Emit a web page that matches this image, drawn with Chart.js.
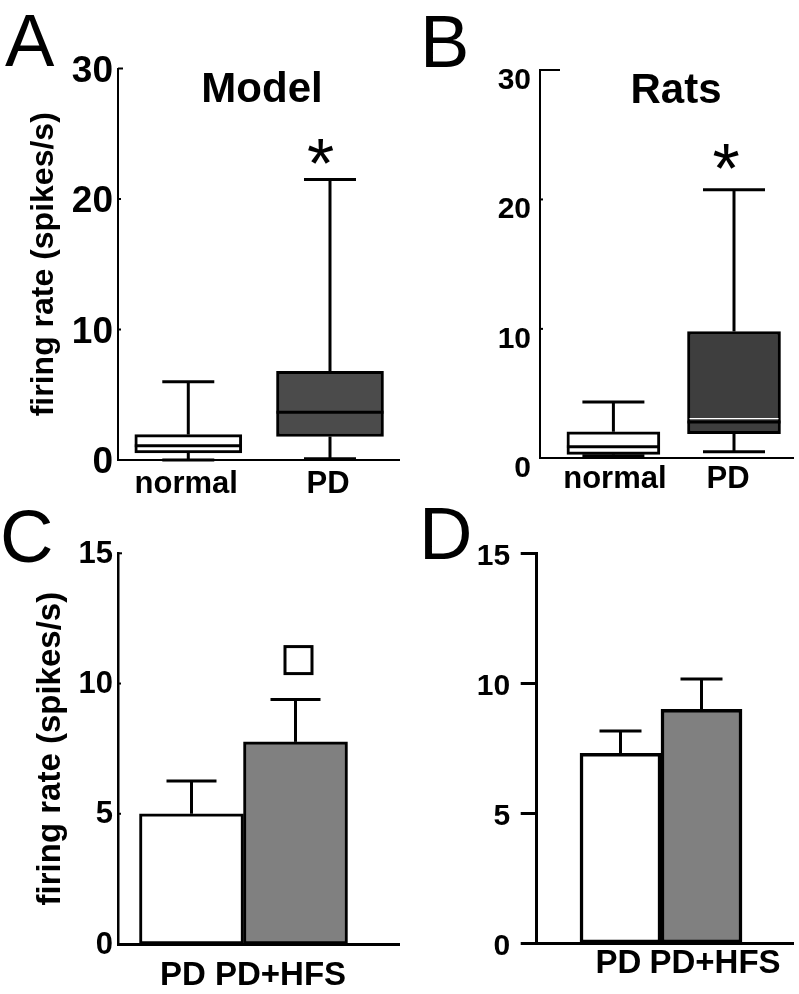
<!DOCTYPE html>
<html><head><meta charset="utf-8">
<script src="https://cdn.jsdelivr.net/npm/chart.js@4.4.1/dist/chart.umd.min.js"></script>
<style>
html,body{margin:0;padding:0;background:#fff;}
#wrap{position:relative;width:799px;height:994px;overflow:hidden;font-family:'Liberation Sans',Arial,Helvetica,sans-serif;color:#000;}
#wrap canvas{position:absolute;}
.lbl{position:absolute;line-height:1;white-space:nowrap;}
.panel{font-size:74px;font-weight:normal;}
.ttl{font-size:42px;font-weight:bold;text-align:center;width:200px;}
</style></head><body>
<div id="wrap">
<canvas id="cA" width="400" height="500" style="left:0;top:0"></canvas>
<canvas id="cB" width="399" height="500" style="left:400px;top:0"></canvas>
<canvas id="cC" width="400" height="494" style="left:0;top:500px"></canvas>
<canvas id="cD" width="399" height="494" style="left:400px;top:500px"></canvas>
<div class="lbl panel" style="left:5px;top:4px">A</div>
<div class="lbl panel" style="left:420px;top:5px">B</div>
<div class="lbl panel" style="left:0px;top:500px">C</div>
<div class="lbl panel" style="left:419px;top:497px">D</div>
<div class="lbl ttl" style="left:162px;top:66.5px">Model</div>
<div class="lbl ttl" style="left:576px;top:67.5px">Rats</div>
</div>
<script>
// ---- data ----
const boxCategories = ['normal', 'PD'];
const modelMin = [0, 0.1];
const modelQ1 = [0.55, 1.8];
const modelMedian = [1.1, 3.65];
const modelQ3 = [1.95, 6.8];
const modelMax = [6.0, 21.5];
const ratsMin = [0.2, 0.5];
const ratsQ1 = [0.3, 1.9];
const ratsMedian = [0.9, 2.8];
const ratsQ3 = [2.05, 9.8];
const ratsMax = [4.35, 20.75];
const boxTicks = [0, 10, 20, 30];

const barCategories = ['PD', 'PD+HFS'];
const modelMean = [5.0, 7.76];
const modelSem = [1.26, 1.63];
const ratsMean = [7.31, 9.0];
const ratsSem = [0.86, 1.17];
const barTicks = [0, 5, 10, 15];

const starA = [null, 23.6];
const starB = [null, 23.25];
const squareC = [null, 10.9];

// ---- rendering ----
const FONT = "'Liberation Sans', Arial, Helvetica, sans-serif";
Chart.defaults.font.family = FONT;
Chart.defaults.color = '#000';

function makeExtras(o) {
  return {
    id: 'extras',
    beforeDraw(chart) {
      if (!o.labelShift) return;
      const items = chart.scales.x.getLabelItems();
      items.forEach((it, i) => {
        if (o.labelShift[i]) it.options.translation[0] += o.labelShift[i];
      });
    },
    afterDatasetsDraw(chart) {
      const ctx = chart.ctx, x = chart.scales.x, y = chart.scales.y;
      const area = chart.chartArea;
      ctx.save();
      ctx.strokeStyle = '#000';
      ctx.fillStyle = '#000';
      ctx.lineCap = 'butt';
      const seg = (x1, y1, x2, y2) => { ctx.beginPath(); ctx.moveTo(x1, y1); ctx.lineTo(x2, y2); ctx.stroke(); };
      const bars = chart.getDatasetMeta(0).data;
      if (o.box) {
        const b = o.box;
        b.min.forEach((_, i) => {
          const px = x.getPixelForValue(i), h = b.capWidth / 2;
          const yMax = y.getPixelForValue(b.max[i]), yQ3 = y.getPixelForValue(b.q3[i]);
          const yMin = y.getPixelForValue(b.min[i]), yQ1 = y.getPixelForValue(b.q1[i]);
          ctx.strokeStyle = '#000';
          ctx.lineWidth = b.lineWidth;
          seg(px, yQ3, px, yMax); seg(px - h, yMax, px + h, yMax);
          if (yMin - yQ1 > 1) seg(px, yQ1, px, yMin);
          seg(px - h, yMin, px + h, yMin);
          const yMed = y.getPixelForValue(b.median[i]);
          const bl = bars[i].x - bars[i].width / 2 + 2, br = bars[i].x + bars[i].width / 2 - 2;
          if (b.glint && b.glint[i]) {
            ctx.strokeStyle = '#ffffff';
            ctx.lineWidth = 1.2;
            seg(bl, yMed - b.glint[i], br, yMed - b.glint[i]);
            ctx.strokeStyle = '#000';
          }
          ctx.lineWidth = b.medianWidth;
          seg(bl - 2, yMed, br + 2, yMed);
        });
      }
      if (o.err) {
        const e = o.err;
        ctx.lineWidth = e.lineWidth;
        e.mean.forEach((m, i) => {
          const px = x.getPixelForValue(i), h = e.capWidth / 2;
          const yTop = y.getPixelForValue(m), yE = y.getPixelForValue(m + e.sem[i]);
          seg(px, yTop, px, yE); seg(px - h, yE, px + h, yE);
        });
      }
      if (o.innerTicks) {
        ctx.lineWidth = o.innerTicks.width;
        Object.keys(o.innerTicks.lengths).forEach(k => {
          const py = y.getPixelForValue(Number(k));
          seg(area.left, py, area.left + o.innerTicks.lengths[k], py);
        });
      }
      if (o.star) {
        const s = o.star;
        ctx.font = s.size + 'px ' + FONT;
        ctx.textAlign = 'center';
        ctx.textBaseline = 'alphabetic';
        s.values.forEach((v, i) => {
          if (v == null) return;
          ctx.fillText('*', x.getPixelForValue(i) + s.dx, y.getPixelForValue(v) + s.size * 0.58 - s.lift);
        });
      }
      if (o.square) {
        const q = o.square;
        ctx.lineWidth = q.lineWidth;
        q.values.forEach((v, i) => {
          if (v == null) return;
          const px = x.getPixelForValue(i) + q.dx, py = y.getPixelForValue(v);
          ctx.fillStyle = '#fff';
          ctx.fillRect(px - q.size / 2, py - q.size / 2, q.size, q.size);
          ctx.strokeRect(px - q.size / 2, py - q.size / 2, q.size, q.size);
        });
      }
      ctx.restore();
    }
  };
}

function bold(size) { return { size: size, weight: 'bold', family: FONT }; }

function buildChart(id, p) {
  return new Chart(document.getElementById(id), {
    type: 'bar',
    data: { datasets: [{
      data: p.data,
      backgroundColor: p.fills,
      borderColor: '#000',
      borderWidth: p.borderWidth,
      borderSkipped: false,
      barThickness: p.barThickness
    }] },
    options: {
      responsive: false, animation: false, devicePixelRatio: 1,
      layout: { padding: { top: p.top, right: p.right, left: 0, bottom: 0 } },
      plugins: { legend: { display: false }, tooltip: { enabled: false }, title: { display: false } },
      scales: {
        x: {
          type: 'linear', min: p.xMin, max: p.xMax, offset: false,
          afterBuildTicks: s => { s.ticks = p.categories.map((c, i) => ({ value: i })); },
          afterFit: s => { s.height = p.xHeight; },
          ticks: { callback: v => p.categories[v], font: bold(p.xFont), color: '#000', padding: p.xPad,
                   autoSkip: false, maxRotation: 0, minRotation: 0 },
          grid: { display: false, drawTicks: false, offset: false },
          border: { color: '#000', width: p.xBorder }
        },
        y: {
          min: 0, max: p.yMax,
          afterBuildTicks: s => { s.ticks = p.yTicks.map(v => ({ value: v })); },
          afterFit: s => { s.width = p.yWidth; },
          ticks: { font: bold(p.yFont), color: '#000', padding: p.yPad, labelOffset: p.yLabelOffset,
                   callback: v => String(v) },
          grid: p.yGrid,
          border: { color: '#000', width: p.yBorder },
          title: p.yTitle || { display: false }
        }
      }
    },
    plugins: [makeExtras(p.extras)]
  });
}

const noGrid = { display: false, drawTicks: false };

// Panel A: model box plot
buildChart('cA', {
  categories: boxCategories,
  data: boxCategories.map((c, i) => ({ x: i, y: [modelQ1[i], modelQ3[i]] })),
  fills: ['#ffffff', '#4b4b4b'], borderWidth: 3, barThickness: 107,
  top: 68.5, right: 0, xHeight: 40, yWidth: 118,
  xMin: -0.496, xMax: 1.494, xFont: 31, xPad: 6, xBorder: 2,
  yMax: 30, yTicks: boxTicks, yFont: 37, yPad: 5, yLabelOffset: 3, yBorder: 2, yGrid: noGrid,
  yTitle: { display: true, text: 'firing rate (spikes/s)', font: bold(32), color: '#000', padding: { top: 24.5, bottom: 0 } },
  extras: {
    labelShift: [-2, -2],
    box: { min: modelMin, q1: modelQ1, median: modelMedian, q3: modelQ3, max: modelMax, lineWidth: 3, medianWidth: 3, capWidth: 52 },
    innerTicks: { lengths: { 10: 3, 20: 3, 30: 5 }, width: 2 },
    star: { values: starA, size: 70, dx: -9.5, lift: 5 }
  }
});

// Panel B: rats box plot
buildChart('cB', {
  categories: boxCategories,
  data: boxCategories.map((c, i) => ({ x: i, y: [ratsQ1[i], ratsQ3[i]] })),
  fills: ['#ffffff', '#3e3e3e'], borderWidth: 3, barThickness: 93,
  top: 70, right: 6, xHeight: 41.7, yWidth: 140,
  xMin: -0.6086, xMax: 1.4892, xFont: 31, xPad: 2.4, xBorder: 2,
  yMax: 30, yTicks: boxTicks, yFont: 30, yPad: 9, yLabelOffset: 10.5, yBorder: 2, yGrid: noGrid,
  extras: {
    labelShift: [1.5, -6],
    box: { min: ratsMin, q1: ratsQ1, median: ratsMedian, q3: ratsQ3, max: ratsMax, lineWidth: 3, medianWidth: 3, capWidth: 62, glint: [0, 3.5] },
    innerTicks: { lengths: { 10: 3, 20: 3, 30: 20 }, width: 2 },
    star: { values: starB, size: 70, dx: -8, lift: 5 }
  }
});

// Panel C: model bar chart
buildChart('cC', {
  categories: barCategories,
  data: barCategories.map((c, i) => ({ x: i, y: modelMean[i] })),
  fills: ['#ffffff', '#808080'], borderWidth: 3, barThickness: 104,
  top: 53.3, right: 0, xHeight: 50, yWidth: 118,
  xMin: -0.7067, xMax: 2.0048, xFont: 33, xPad: 11.8, xBorder: 3,
  yMax: 15, yTicks: barTicks, yFont: 31, yPad: 5, yLabelOffset: 1, yBorder: 2.5, yGrid: noGrid,
  yTitle: { display: true, text: 'firing rate (spikes/s)', font: bold(33), color: '#000', padding: { top: 31, bottom: 0 } },
  extras: {
    labelShift: [-8.5, -15],
    err: { mean: modelMean, sem: modelSem, lineWidth: 3, capWidth: 50 },
    innerTicks: { lengths: { 5: 3, 10: 3, 15: 4 }, width: 2 },
    square: { values: squareC, size: 27, dx: 3, lineWidth: 3 }
  }
});

// Panel D: rats bar chart
buildChart('cD', {
  categories: barCategories,
  data: barCategories.map((c, i) => ({ x: i, y: ratsMean[i] })),
  fills: ['#ffffff', '#808080'], borderWidth: 3.5, barThickness: 81,
  top: 53.3, right: 6, xHeight: 50.7, yWidth: 136.7,
  xMin: -1.0346, xMax: 2.1296, xFont: 33, xPad: 0.5, xBorder: 3,
  yMax: 15, yTicks: barTicks, yFont: 30, yPad: 10.5, yLabelOffset: 3, yBorder: 3,
  yGrid: { display: true, drawOnChartArea: false, drawTicks: true, tickLength: 16, tickWidth: 3, tickColor: '#000', color: '#000' },
  extras: {
    labelShift: [-2, 13.5],
    err: { mean: ratsMean, sem: ratsSem, lineWidth: 3, capWidth: 42 }
  }
});
</script>
</body></html>
